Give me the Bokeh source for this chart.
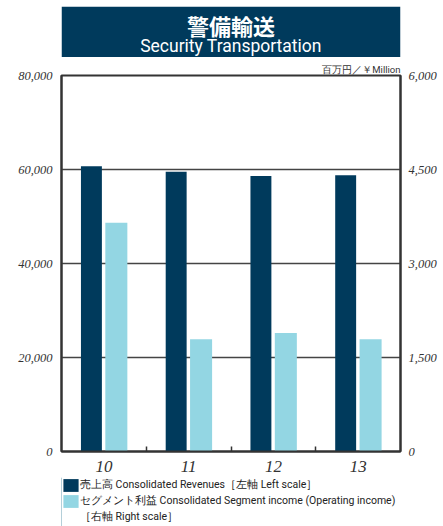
import numpy as np
from bokeh.plotting import figure
from bokeh.layouts import column
from bokeh.models import (Range1d, LinearAxis, FixedTicker, NumeralTickFormatter,
                          ColumnDataSource, Legend, LegendItem)
from bokeh.embed import file_html
from bokeh.resources import INLINE
from bokeh.core.properties import value

# ---- data ----
years = ["10", "11", "12", "13"]
revenues = [60700, 59500, 58600, 58800]          # left scale, ¥ million
segment_income = [3650, 1790, 1890, 1790]        # right scale, ¥ million
left_ticks = [0, 20000, 40000, 60000, 80000]
right_ticks = [0, 1500, 3000, 4500, 6000]
title_jp = "警備輸送"
title_en = "Security Transportation"
unit_text = "百万円／￥Million"
legend_labels = ["売上高 Consolidated Revenues［左軸 Left scale］",
                 "セグメント利益 Consolidated Segment income (Operating income)",
                 "［右軸 Right scale］"]

NAVY = "#003A5C"
LIGHT = "#93D6E3"
DARK = "#333333"
SERIF = "Liberation Serif"
SANS = "Roboto"

W = 443
BL, BR = 60, 43

# ---- title banner ----
pt = figure(width=W, height=57, x_range=Range1d(0, 1), y_range=Range1d(0, 1),
            min_border_left=BL, min_border_right=BR, min_border_top=6, min_border_bottom=0,
            toolbar_location=None, output_backend="svg")
pt.axis.visible = False
pt.grid.visible = False
pt.outline_line_color = None
pt.quad(left=0, right=1, bottom=0, top=1, fill_color=NAVY, line_color=None)
pt.text(x=[0.5], y=[0.635], text=[title_jp], text_align="center", text_baseline="middle",
        text_color="white", text_font=value("Noto Sans CJK JP"), text_font_size="22px",
        text_font_style="bold")
pt.text(x=[0.5], y=[0.225], text=[title_en], text_align="center", text_baseline="middle",
        text_color="white", text_font=value("Roboto"), text_font_size="17.5px")

# ---- main chart ----
n = len(years)
centers = np.arange(n) + 0.5
src = ColumnDataSource(dict(x_rev=centers - 0.147, x_seg=centers + 0.147,
                            rev=revenues, seg=segment_income))

p = figure(width=W, height=417, x_range=Range1d(0, n), y_range=Range1d(0, 80000),
           min_border_left=BL, min_border_right=BR, min_border_top=18, min_border_bottom=21,
           toolbar_location=None, output_backend="svg", x_axis_location=None, y_axis_location=None)
p.extra_y_ranges = {"right": Range1d(0, 6000)}

p.title.text = unit_text
p.title.align = "right"
p.title.text_font = SANS
p.title.text_font_size = "9.5px"
p.title.text_font_style = "normal"
p.title.text_color = DARK
p.title.standoff = 1

p.outline_line_color = DARK
p.outline_line_width = 2
p.outline_line_alpha = 1

r1 = p.vbar(x="x_rev", top="rev", width=0.247, source=src, fill_color=NAVY, line_color=None)
r2 = p.vbar(x="x_seg", top="seg", width=0.26, source=src, fill_color=LIGHT, line_color=None,
            y_range_name="right")

# axes
ly = LinearAxis(ticker=FixedTicker(ticks=left_ticks), formatter=NumeralTickFormatter(format="0,0"))
ry = LinearAxis(y_range_name="right", ticker=FixedTicker(ticks=right_ticks),
                formatter=NumeralTickFormatter(format="0,0"))
for ax in (ly, ry):
    ax.major_tick_line_color = None
    ax.minor_tick_line_color = None
    ax.axis_line_color = DARK
    ax.axis_line_width = 2
    ax.major_label_text_font = SERIF
    ax.major_label_text_font_style = "italic"
    ax.major_label_text_font_size = "12.5px"
    ax.major_label_text_color = DARK
ly.major_label_standoff = 3
ry.major_label_standoff = 2
p.add_layout(ly, "left")
p.add_layout(ry, "right")

xa = LinearAxis(ticker=FixedTicker(ticks=list(centers), minor_ticks=list(np.arange(1, n))),
                major_label_overrides={float(c): y for c, y in zip(centers, years)})
xa.major_tick_line_color = None
xa.minor_tick_line_color = DARK
xa.minor_tick_line_width = 1.5
xa.minor_tick_in = 5
xa.minor_tick_out = 0
xa.axis_line_color = DARK
xa.axis_line_width = 2
xa.major_label_text_font = SERIF
xa.major_label_text_font_style = "italic"
xa.major_label_text_font_size = "17px"
xa.major_label_text_color = DARK
xa.major_label_standoff = 3
p.add_layout(xa, "below")

p.xgrid.visible = False
p.ygrid.ticker = FixedTicker(ticks=left_ticks)
p.ygrid.grid_line_color = "#444444"
p.ygrid.grid_line_width = 1.3

# ---- legend strip ----
pl = figure(width=W, height=52, x_range=Range1d(0, 1), y_range=Range1d(0, 1),
            min_border_left=61, min_border_right=0, min_border_top=3, min_border_bottom=0,
            toolbar_location=None, output_backend="svg")
pl.axis.visible = False
pl.grid.visible = False
pl.outline_line_color = None
g1 = pl.vbar(x=[-5], top=[1], width=0.1, fill_color=NAVY, line_color=None)
g2 = pl.vbar(x=[-5], top=[1], width=0.1, fill_color=LIGHT, line_color=None)
g3 = pl.vbar(x=[-5], top=[1], width=0.1, fill_alpha=0, line_alpha=0)
legend = Legend(items=[LegendItem(label=legend_labels[0], renderers=[g1]),
                       LegendItem(label=legend_labels[1], renderers=[g2]),
                       LegendItem(label=legend_labels[2], renderers=[g3])],
                location="top_left", orientation="vertical",
                margin=0, padding=0, spacing=0,
                glyph_width=19, glyph_height=16, label_height=16, label_standoff=0,
                label_text_font=SANS, label_text_font_size="10.5px", label_text_color="#222222",
                border_line_color=None, background_fill_alpha=0)
pl.add_layout(legend)

layout = column(pt, p, pl, spacing=0)
open("out.html", "w").write(file_html(layout, INLINE))
